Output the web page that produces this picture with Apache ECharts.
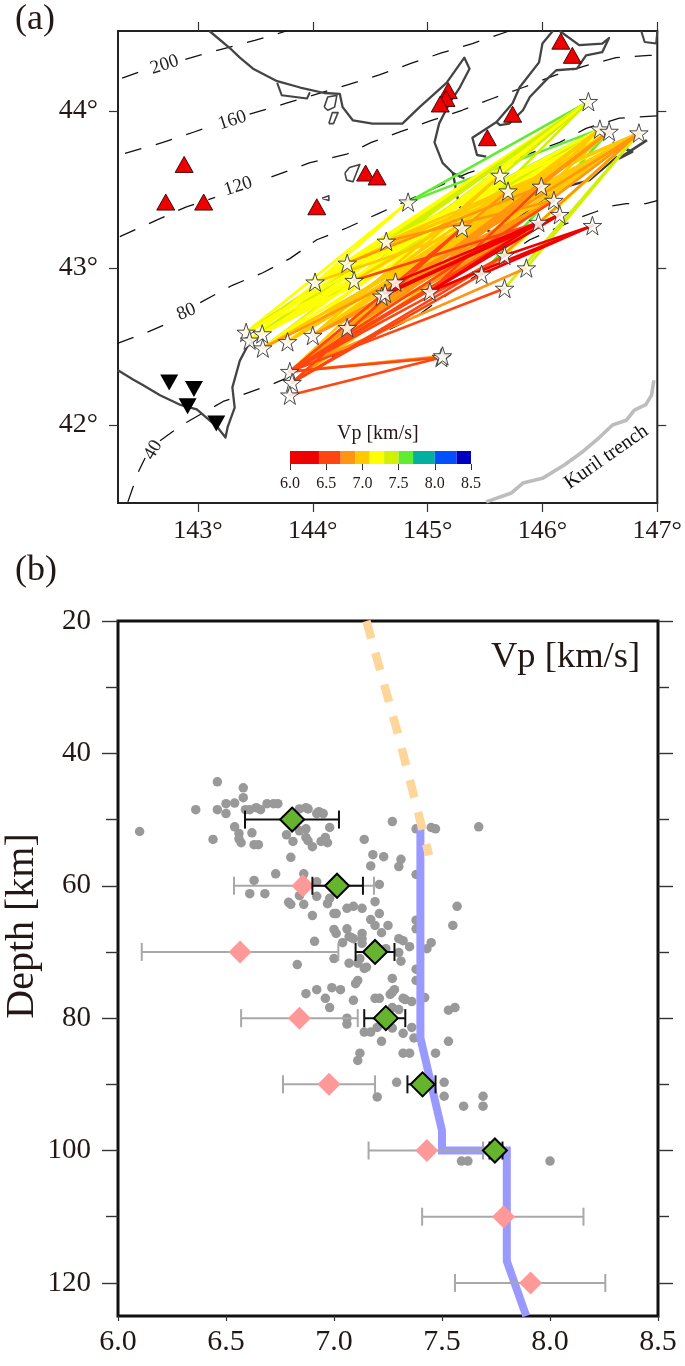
<!DOCTYPE html>
<html><head><meta charset="utf-8">
<style>html,body{margin:0;padding:0;background:#fff}#c{width:685px;height:1366px}</style>
<script src="https://cdn.jsdelivr.net/npm/echarts@6/dist/echarts.min.js"></script>
</head><body><div id="c"></div>
<script>
// ---------- map panel data (lon, lat) ----------
const stars=[[146.40,44.06],[146.50,43.885],[146.58,43.87],[146.84,43.86],[145.63,43.59],[145.70,43.49],[145.99,43.52],[146.10,43.43],[146.15,43.34],[145.965,43.29],[146.435,43.27],[144.83,43.42],[144.64,43.17],[145.30,43.255],[145.67,43.08],[144.30,43.03],[145.86,43.00],[144.02,42.91],[144.36,42.92],[144.72,42.91],[144.60,42.82],[144.63,42.84],[145.02,42.85],[145.47,42.96],[145.67,42.87],[144.30,42.62],[144.00,42.57],[143.78,42.53],[143.42,42.59],[143.45,42.54],[143.56,42.58],[143.565,42.49],[143.80,42.34],[143.82,42.27],[143.80,42.19],[145.12,42.43],[145.13,42.44]];
// from star, to star, Vp
const rays=[
[11,0,7.6],[11,1,7.6],[23,2,7.6],[12,1,7.6],[21,2,7.6],[19,7,7.6],
[28,11,7.2],[28,0,7.4],[28,4,7.2],[29,0,7.4],[29,11,7.2],[30,0,7.3],[30,4,7.2],[30,5,7.2],[31,0,7.4],[31,1,7.2],[31,4,7.2],[27,0,7.2],[27,1,7.2],[28,1,7.2],[29,1,7.2],[29,5,7.2],[26,0,7.4],[17,0,7.2],[17,1,7.2],[15,0,7.2],[12,0,7.4],[18,0,7.2],[18,1,7.4],[16,3,7.4],[24,3,7.4],[23,3,7.3],[14,3,7.2],[13,0,7.4],[13,1,7.2],[26,1,7.2],[25,2,7.4],
[28,6,7.2],[29,6,7.2],[30,6,7.2],[17,3,7.2],[17,6,7.2],[15,1,7.2],[12,2,7.2],[18,2,7.2],
[31,3,7.0],[31,6,7.0],[27,3,7.0],[27,6,7.0],[26,3,7.0],[26,2,7.0],[26,4,7.0],[25,1,7.0],[25,3,7.0],[25,6,7.0],[15,3,7.0],[12,3,7.0],[19,3,7.0],[21,1,7.0],[22,1,7.0],[13,3,7.0],[32,1,7.0],[32,3,7.0],[33,3,7.0],[32,4,7.0],
[27,2,7.0],[27,5,7.0],[26,6,7.0],[25,5,7.0],[17,7,7.0],[12,6,7.0],[18,5,7.0],[19,1,7.0],[20,2,7.0],[21,6,7.0],[22,2,7.0],[13,7,7.0],[13,6,7.0],
[31,7,6.8],[26,7,6.8],[25,7,6.8],[15,6,6.8],[25,8,6.8],[25,9,6.8],[26,9,6.8],[12,7,6.8],[20,3,6.8],[22,3,6.8],[32,2,6.8],[32,6,6.8],[33,2,6.8],[32,5,6.8],[33,6,6.8],[23,3,6.8],[32,36,6.8],[32,16,6.8],
[32,13,6.55],[33,13,6.55],[33,14,6.55],[33,23,6.55],[32,24,6.55],[32,14,6.55],[32,9,6.55],[34,35,6.55],[32,35,6.55],[18,9,6.55],[22,6,6.55],[21,9,6.55],[32,8,6.55],[32,7,6.55],
[19,9,6.2],[20,9,6.2],[20,8,6.2],[21,8,6.2],[22,9,6.2],[22,8,6.2],[22,10,6.2],[23,10,6.2],[14,10,6.2]
];
const volcanoes=[[142.88,43.66],[142.72,43.42],[143.05,43.42],[144.035,43.39],[144.46,43.605],[144.56,43.58],[145.18,44.13],[145.16,44.08],[145.11,44.045],[145.52,43.83],[145.74,43.98],[146.16,44.445],[146.26,44.355]];
const stations=[[142.75,42.27],[142.965,42.23],[142.91,42.12],[143.16,42.01]];
const coastNorth=[[143.10,44.51],[143.28,44.40],[143.365,44.34],[143.48,44.27],[143.69,44.19],[143.89,44.15],[144.10,44.115],[144.235,44.11],[144.26,44.025],[144.35,43.94],[144.52,43.92],[144.78,43.92],[144.93,44.025],[145.165,44.18],[145.32,44.34],[145.365,44.27],[145.28,44.15],[145.19,44.05],[145.10,43.92],[145.06,43.80],[145.13,43.67],[145.22,43.605],[145.32,43.57]];
const coastPacific=[[145.22,43.605],[145.26,43.45],[145.28,43.39],[145.52,43.24],[145.60,43.21],[145.95,43.41],[146.19,43.515],[146.41,43.56],[146.65,43.71]];
const coastBay=[[143.69,44.18],[143.73,44.10],[143.95,44.08],[143.975,44.12]];
const coastKuril=[[145.51,43.71],[145.43,43.72],[145.39,43.83],[145.60,43.93],[145.74,44.05],[145.80,44.15],[145.97,44.31],[146.00,44.43],[146.09,44.51]];
const coastShiretoko=[[146.15,44.51],[146.32,44.42],[146.52,44.43],[146.58,44.465],[146.52,44.375],[146.38,44.355],[146.30,44.27],[146.12,44.26],[146.035,44.20],[145.89,44.09],[145.83,44.005],[145.71,43.92],[145.63,43.91],[145.60,43.93]];
const coastSouth=[[142.30,42.35],[142.435,42.29],[142.52,42.255],[142.67,42.19],[142.84,42.13],[142.99,42.10],[143.165,41.99],[143.24,41.92],[143.26,41.99],[143.32,42.11],[143.30,42.24],[143.365,42.41],[143.43,42.50],[143.51,42.55],[143.56,42.59]];
const coastEast=[[146.61,43.80],[146.78,43.74],[146.67,43.70],[146.91,43.815]];
const coastCorner=[[146.86,44.51],[146.89,44.44],[146.99,44.43],[147.0,44.51]];
const isleA=[[144.28,43.605],[144.32,43.64],[144.41,43.66],[144.39,43.625],[144.35,43.55],[144.295,43.56],[144.28,43.605]];
const isleB=[[144.08,43.445],[144.14,43.46],[144.14,43.43],[144.08,43.445]];
const isleC=[[144.10,44.025],[144.13,44.09],[144.21,44.10],[144.19,44.025],[144.13,44.005],[144.10,44.025]];
const isleD=[[144.14,43.92],[144.17,43.99],[144.22,43.99],[144.18,43.92],[144.14,43.92]];
const trench=[[145.51,41.51],[145.73,41.567],[145.83,41.63],[146.0,41.66],[146.19,41.745],[146.35,41.83],[146.495,41.92],[146.61,42.0],[146.73,42.03],[146.80,42.095],[146.90,42.13],[146.95,42.19],[146.97,42.285]];
const contour40=[[142.39,41.51],[142.435,41.605],[142.48,41.70],[142.54,41.79],null,[142.67,41.90],[142.86,42.00],[143.22,42.15],[143.63,42.255],[144.00,42.37],[144.15,42.43],[144.90,42.69],[145.13,42.81],[145.89,43.18],[146.34,43.325],[146.47,43.36],[146.60,43.395],[146.73,43.41],[146.90,43.41],[147.0,43.43]];
const contour80=[[142.30,42.52],[142.556,42.59],[142.78,42.66],null,[143.02,42.78],[143.30,42.89],[143.565,42.97],[143.80,43.06],[144.035,43.18],[144.295,43.255],[144.58,43.35],[145.08,43.515],[145.35,43.605],[145.82,43.71],[146.15,43.80],[146.38,43.89],[146.67,43.955],[147.0,43.97]];
const contour120=[[142.32,43.20],[142.64,43.305],[142.90,43.39],[143.15,43.45],null,[143.64,43.58],[143.97,43.67],[144.295,43.725],[144.51,43.80],[144.77,43.87],[145.035,43.94],[145.30,44.005],[145.565,44.08],[145.83,44.15],[146.12,44.23],[146.38,44.29],[146.64,44.34],[146.93,44.355],[147.0,44.355]];
const contour160=[[142.365,43.73],[142.695,43.80],[142.96,43.865],[143.06,43.89],null,[143.45,43.98],[143.77,44.05],[144.295,44.165],[144.58,44.23],[144.86,44.305],[145.12,44.37],[145.39,44.43],[145.71,44.51]];
const contour200=[[142.34,44.21],[142.495,44.25],null,[142.89,44.33],[143.21,44.395],[143.495,44.45],[143.77,44.51]];
const contourLabels=[[142.61,41.84,'40'],[142.90,42.72,'80'],[143.35,43.52,'120'],[143.30,43.94,'160'],[142.71,44.295,'200']];
const trenchLabel=[[146.556,41.796,'Kuril trench']];
const lonTicks=[143,144,145,146,147];
const latTicks=[42,43,44];
// ---------- colour scale ----------
const cbEdges=[6.0,6.4,6.7,6.9,7.1,7.3,7.5,7.7,8.0,8.3,8.5];
const cbColors=['#f00000','#ff4510','#ff9510','#ffc800','#ffff00','#d2f000','#60ec30','#00b0a0','#0050ff','#0000c0'];
const cbTicks=[6.0,6.5,7.0,7.5,8.0,8.5];
// ---------- depth panel data (Vp, depth) ----------
const dots=[[6.46,44.3],[6.58,45.2],[6.58,46.7],[6.54,47.5],[6.50,47.6],[6.36,48.5],[6.46,48.5],[6.50,49.1],[6.59,48.5],[6.61,48.5],[6.64,48.2],[6.66,48.5],[6.69,47.6],[6.72,47.6],[6.74,47.6],[6.84,48.4],[6.87,48.2],[6.88,48.4],[6.92,49.1],[6.93,48.8],[6.95,49.1],[6.98,51.2],[6.10,51.8],[6.54,51.1],[6.56,52.1],[6.62,52.0],[6.56,52.9],[6.57,53.5],[6.44,53.0],[6.63,53.8],[6.65,53.8],[6.78,52.3],[6.81,53.3],[6.87,51.4],[6.84,51.7],[6.87,52.7],[6.88,53.2],[6.90,54.1],[6.96,52.7],[6.94,53.3],[6.97,53.5],[6.80,55.7],[6.73,58.2],[6.86,58.2],[6.63,59.2],[6.92,59.4],[6.61,61.2],[6.68,61.2],[6.84,61.5],[6.92,61.6],[6.79,62.5],[6.80,62.8],[6.86,62.8],[6.98,61.9],[6.97,62.7],[6.90,64.5],[7.00,64.2],[7.01,64.2],[7.00,66.6],[7.01,67.2],[6.91,68.4],[7.27,50.3],[7.38,51.4],[7.45,51.2],[7.47,51.4],[7.67,51.1],[7.14,53.0],[7.18,55.3],[7.23,55.6],[7.17,57.0],[7.31,56.0],[7.30,57.1],[7.38,58.3],[7.21,59.8],[7.19,62.4],[7.13,63.4],[7.09,63.1],[7.06,63.4],[7.57,63.1],[7.55,66.0],[7.21,64.2],[7.17,65.1],[7.19,66.0],[7.25,66.0],[7.22,67.1],[7.06,66.5],[7.13,67.2],[7.07,67.7],[7.09,68.0],[7.13,68.0],[7.13,68.7],[7.04,68.6],[7.30,68.0],[7.32,68.3],[7.35,69.2],[7.45,68.6],[7.38,65.2],[7.38,66.5],[7.43,69.5],[7.08,67.8],[7.30,70.1],[7.24,69.5],[7.00,71.0],[6.83,71.9],[7.07,71.7],[7.12,71.0],[7.11,71.7],[7.14,72.5],[7.15,72.3],[7.31,71.4],[7.38,72.6],[7.27,74.0],[7.38,74.3],[7.11,74.3],[7.10,74.8],[7.28,75.7],[7.27,76.1],[7.26,76.4],[7.03,75.7],[6.99,75.4],[6.92,75.7],[6.87,76.3],[6.96,77.0],[6.98,78.4],[7.09,77.3],[7.19,77.0],[7.21,77.0],[7.32,77.0],[7.33,77.2],[7.36,77.5],[7.42,76.9],[7.27,78.4],[7.30,78.7],[7.53,78.8],[7.56,78.4],[7.06,80.0],[7.06,80.9],[7.14,82.1],[7.17,82.1],[7.20,81.4],[7.27,81.5],[7.36,81.4],[7.32,82.3],[7.37,83.0],[7.22,83.5],[7.53,83.5],[7.32,85.3],[7.35,85.3],[7.47,85.3],[7.12,85.3],[7.11,86.4],[7.29,89.7],[7.51,89.7],[7.20,91.9],[7.51,91.8],[7.69,91.8],[7.60,93.3],[7.69,93.3],[7.59,101.6],[7.62,101.6],[8.00,101.6]];
const blueProfile=[[7.40,51],[7.40,83],[7.50,97],[7.50,100],[7.80,100],[7.80,116.7],[7.89,125]];
const orangeProfile=[[7.15,20],[7.30,37.5],[7.44,55.4]];
const pinkDepth=[60,70,80,90,100,110,120];
const pinkVp=[6.856,6.565,6.84,6.977,7.43,7.785,7.91];
const pinkLow=[6.537,6.11,6.57,6.764,7.16,7.408,7.56];
const pinkHigh=[7.185,7.02,7.11,7.19,7.69,8.155,8.256];
const greenDepth=[50,60,70,80,90,100];
const greenVp=[6.806,7.014,7.19,7.24,7.41,7.745];
const greenLow=[6.588,6.90,7.10,7.14,7.34,7.72];
const greenHigh=[7.023,7.134,7.28,7.33,7.47,7.78];
const depthTicks=[20,40,60,80,100,120];
const depthMinorTicks=[30,50,70,90,110];
const vpTicks=[6.0,6.5,7.0,7.5,8.0,8.5];

// ---------- helpers ----------
const SERIF='"Liberation Serif","Times New Roman",serif';
const INK='#231815';
const gaps=a=>a.map(p=>p===null?['-','-']:p);
const vpColor=v=>{for(let i=0;i<cbColors.length;i++){if(v<cbEdges[i+1])return cbColors[i];}return cbColors[cbColors.length-1];};
const STAR='path://M50 0 L61.8 35.4 L99 35.4 L69 57.3 L80 92.7 L50 71 L20 92.7 L31 57.3 L1 35.4 L38.2 35.4Z';

const rayData=rays.map(r=>[stars[r[0]][0],stars[r[0]][1],stars[r[1]][0],stars[r[1]][1],r[2]]);

function lineS(data,color,width,opt){
  return Object.assign({type:'line',xAxisIndex:0,yAxisIndex:0,data:gaps(data),showSymbol:false,symbol:'none',silent:true,
    animation:false,z:2,lineStyle:Object.assign({color:color,width:width,cap:'butt',join:'round'},opt||{})});
}
function errS(rows,color,width,z){
  return {type:'custom',xAxisIndex:1,yAxisIndex:4,data:rows,silent:true,animation:false,z:z,clip:true,
    renderItem(p,api){
      const a=api.coord([api.value(1),api.value(0)]),b=api.coord([api.value(2),api.value(0)]);
      const st={stroke:color,lineWidth:width,fill:null};
      return {type:'group',children:[
        {type:'line',shape:{x1:a[0],y1:a[1],x2:b[0],y2:b[1]},style:st},
        {type:'line',shape:{x1:a[0],y1:a[1]-9,x2:a[0],y2:a[1]+9},style:st},
        {type:'line',shape:{x1:b[0],y1:b[1]-9,x2:b[0],y2:b[1]+9},style:st}]};
    }};
}
function tickAxis(type,pos,grid,min,max,vals,len,lw,extra){
  return Object.assign({type:'value',gridIndex:grid,position:pos,min:min,max:max,splitLine:{show:false},
    axisLine:{show:false},
    axisTick:{show:true,length:len,inside:false,customValues:vals,lineStyle:{color:'#333',width:lw}},
    axisLabel:{show:false,customValues:vals}},extra||{});
}
function withLabels(ax,vals,size,margin,fmt){
  ax.axisLabel={show:true,customValues:vals,fontFamily:SERIF,fontSize:size,color:INK,margin:margin,formatter:fmt,hideOverlap:false};
  return ax;
}
const LONMIN=142.304,LONMAX=147,LATMIN=41.503,LATMAX=44.51;

const option={
  backgroundColor:'#fff',animation:false,
  grid:[
    {left:118,top:31,width:540,height:472,show:true,borderColor:'#222',borderWidth:2,backgroundColor:'transparent',containLabel:false},
    {left:118,top:621,width:540,height:695,show:true,borderColor:'#111',borderWidth:3,backgroundColor:'transparent',containLabel:false},
    {left:290,top:451,width:181,height:13,show:false,containLabel:false}
  ],
  xAxis:[
    withLabels(tickAxis('x','bottom',0,LONMIN,LONMAX,lonTicks,9,1.2),lonTicks,26,15,v=>Math.round(v)+'°'),
    withLabels(tickAxis('x','bottom',1,6,8.5,vpTicks,5,1.2),vpTicks,30,11,v=>v.toFixed(1)),
    withLabels(tickAxis('x','bottom',2,6,8.5,cbTicks,6,1),cbTicks,16,12,v=>v.toFixed(1)),
    tickAxis('x','top',0,LONMIN,LONMAX,lonTicks,9,1.2)
  ],
  yAxis:[
    withLabels(tickAxis('y','left',0,LATMIN,LATMAX,latTicks,9,1.2),latTicks,28,20,v=>Math.round(v)+'°'),
    tickAxis('y','right',0,LATMIN,LATMAX,latTicks,9,1.2),
    tickAxis('y','left',1,20,125,depthMinorTicks,12,1.4,{inverse:true}),
    tickAxis('y','right',1,20,125,depthMinorTicks,11,1.4,{inverse:true}),
    withLabels(tickAxis('y','left',1,20,125,depthTicks,16,1.4,{inverse:true}),depthTicks,29,27,v=>String(v)),
    tickAxis('y','right',1,20,125,depthTicks,15,1.4,{inverse:true}),
    Object.assign(tickAxis('y','left',2,0,1,[],0,0),{axisTick:{show:false},axisLabel:{show:false}})
  ],
  graphic:[
    {type:'text',left:15,top:2,style:{text:'(a)',font:'36px '+SERIF,fill:INK}},
    {type:'text',left:15,top:553,style:{text:'(b)',font:'36px '+SERIF,fill:INK}},
    {type:'text',left:491,top:639,style:{text:'Vp [km/s]',font:'36.5px '+SERIF,fill:INK}},
    {type:'text',left:337,top:424,style:{text:'Vp [km/s]',font:'20px '+SERIF,fill:INK}},
    {type:'text',x:22,y:926,rotation:Math.PI/2,style:{text:'Depth [km]',font:'40px '+SERIF,fill:INK,align:'center',verticalAlign:'middle'}}
  ],
  series:[
    lineS(contour40,'#111',1.3,{type:[17,15]}),
    lineS(contour80,'#111',1.3,{type:[17,15]}),
    lineS(contour120,'#111',1.3,{type:[17,15]}),
    lineS(contour160,'#111',1.3,{type:[17,15]}),
    lineS(contour200,'#111',1.3,{type:[17,15]}),
    lineS(coastNorth,'#444',2.3),lineS(coastPacific,'#333',2.3),lineS(coastBay,'#444',2),lineS(coastKuril,'#444',2.3),lineS(coastShiretoko,'#444',2.3),
    lineS(coastSouth,'#444',2.3),lineS(coastEast,'#444',2.8),lineS(coastCorner,'#444',2),
    lineS(isleA,'#444',1.6),lineS(isleB,'#444',1.6),lineS(isleC,'#444',1.6),lineS(isleD,'#444',1.6),
    lineS(trench,'#bdbdbd',3.6),
    {type:'custom',xAxisIndex:0,yAxisIndex:0,data:rayData,silent:true,animation:false,z:3,clip:true,
      renderItem(p,api){
        const a=api.coord([api.value(0),api.value(1)]),b=api.coord([api.value(2),api.value(3)]);
        return {type:'line',shape:{x1:a[0],y1:a[1],x2:b[0],y2:b[1]},style:{stroke:vpColor(api.value(4)),lineWidth:2.6,lineCap:'round',fill:null}};
      }},
    {type:'scatter',xAxisIndex:0,yAxisIndex:0,data:stars,symbol:STAR,symbolSize:18.5,silent:true,animation:false,z:4,
      itemStyle:{color:'rgba(255,250,245,0.86)',borderColor:'#333',borderWidth:0.9,opacity:1}},
    {type:'scatter',xAxisIndex:0,yAxisIndex:0,data:volcanoes,symbol:'triangle',symbolSize:[18,16],silent:true,animation:false,z:5,
      itemStyle:{color:'#ee0000',borderColor:'#300',borderWidth:0.9,opacity:1}},
    {type:'scatter',xAxisIndex:0,yAxisIndex:0,data:stations,symbol:'triangle',symbolSize:[18,16],symbolRotate:180,silent:true,animation:false,z:5,
      itemStyle:{color:'#000',opacity:1}},
    {type:'scatter',xAxisIndex:0,yAxisIndex:0,data:contourLabels.map((c,i)=>({value:[c[0],c[1]],label:{formatter:c[2],rotate:[60,22,18,18,18][i]}})),symbolSize:0,silent:true,animation:false,z:6,
      itemStyle:{opacity:1},label:{show:true,position:'inside',fontFamily:SERIF,fontSize:19,color:'#222'}},
    {type:'scatter',xAxisIndex:0,yAxisIndex:0,data:trenchLabel.map(c=>({value:[c[0],c[1]],label:{formatter:c[2]}})),symbolSize:0,silent:true,animation:false,z:6,
      itemStyle:{opacity:1},label:{show:true,position:'inside',rotate:35,fontFamily:SERIF,fontSize:20,color:'#111'}},
    // colour bar
    {type:'custom',xAxisIndex:2,yAxisIndex:6,data:cbColors.map((c,i)=>[cbEdges[i],cbEdges[i+1],i]),silent:true,animation:false,z:7,clip:false,
      renderItem(p,api){
        const a=api.coord([api.value(0),1]),b=api.coord([api.value(1),0]);
        return {type:'rect',shape:{x:a[0],y:a[1],width:b[0]-a[0],height:b[1]-a[1]},style:{fill:cbColors[api.value(2)]}};
      }},
    // depth panel
    {type:'scatter',xAxisIndex:1,yAxisIndex:4,data:dots,symbolSize:9.5,silent:true,animation:false,z:2,itemStyle:{color:'#999',opacity:1}},
    Object.assign(lineS(blueProfile,'#9999ff',8,{join:'miter'}),{xAxisIndex:1,yAxisIndex:4,z:3}),
    Object.assign(lineS(orangeProfile,'#ffd699',8.5,{type:[18,15]}),{xAxisIndex:1,yAxisIndex:4,z:3}),
    errS(pinkDepth.map((d,i)=>[d,pinkLow[i],pinkHigh[i]]),'#a8a8a8',2,4),
    {type:'scatter',xAxisIndex:1,yAxisIndex:4,data:pinkDepth.map((d,i)=>[pinkVp[i],d]),symbol:'diamond',symbolSize:23,silent:true,animation:false,z:5,itemStyle:{color:'#ff9999',opacity:1}},
    errS(greenDepth.map((d,i)=>[d,greenLow[i],greenHigh[i]]),'#111',2,6),
    {type:'scatter',xAxisIndex:1,yAxisIndex:4,data:greenDepth.map((d,i)=>[greenVp[i],d]),symbol:'diamond',symbolSize:24,silent:true,animation:false,z:7,itemStyle:{color:'#66b32e',borderColor:'#000',borderWidth:2,opacity:1}}
  ]
};
const chart=echarts.init(document.getElementById('c'),null,{renderer:'canvas'});
chart.setOption(option);
</script></body></html>
